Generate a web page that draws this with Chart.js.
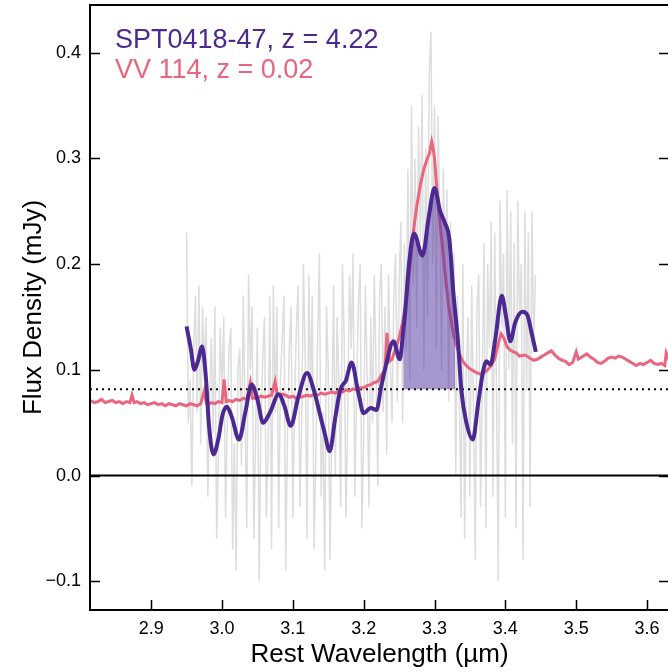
<!DOCTYPE html>
<html><head><meta charset="utf-8">
<script src="https://cdn.jsdelivr.net/npm/chart.js@4.4.1/dist/chart.umd.min.js"></script>
<style>html,body{margin:0;padding:0;background:#fff;overflow:hidden;width:668px;height:672px}
#wrap{width:680px;height:672px;position:relative}</style></head>
<body><div id="wrap"><canvas id="c"></canvas></div>
<script>
// ---- data ----
const xTicks = [2.9, 3.0, 3.1, 3.2, 3.3, 3.4, 3.5, 3.6];
const yTicks = [-0.1, 0.0, 0.1, 0.2, 0.3, 0.4];
const xRange = [2.8137, 3.631];
const yRange = [-0.1272, 0.4451];
const continuumLevel = 0.0816;
const fillRange = [3.256, 3.329];
const seriesLabels = ["SPT0418-47, z = 4.22", "VV 114, z = 0.02"];
const xTitle = "Rest Wavelength (\u00b5m)";
const yTitle = "Flux Density (mJy)";

// observed (unsmoothed) SPT0418-47 spectrum, evenly sampled
const greyStart = 2.95, greyStep = 0.0025;
const greyFlux = [
 0.23, 0.05, 0.09, -0.01, 0.12, 0.17, 0.06, 0.18, 0.03, 0.16,
 0.10, 0.15, -0.02, 0.07, 0.13, 0.04, 0.16, -0.06, 0.02, 0.14,
 0.08, 0.15, -0.04, 0.05, 0.12, 0.14, -0.07, 0.03, -0.09, 0.10,
 0.12, 0.01, 0.17, 0.06, -0.05, 0.19, 0.10, 0.16, -0.06, 0.04,
 0.14, -0.10, 0.05, 0.11, 0.15, -0.04, 0.02, 0.17, -0.07, 0.18,
 0.06, 0.16, -0.05, 0.09, 0.13, 0.17, -0.09, 0.04, 0.12, 0.16,
 -0.04, 0.07, 0.14, 0.18, -0.03, 0.05, 0.20, 0.11, -0.06, 0.19,
 0.08, 0.17, -0.07, 0.02, 0.13, 0.21, -0.02, 0.06, -0.09, 0.16,
 0.10, -0.08, 0.05, 0.18, 0.00, 0.15, 0.09, -0.03, 0.20, 0.13,
 -0.04, 0.06, 0.19, 0.12, 0.21, -0.02, 0.08, 0.16, 0.20, -0.05,
 0.04, 0.18, 0.09, -0.03, 0.15, 0.05, 0.19, 0.10, -0.01, 0.17,
 0.20, 0.06, 0.16, 0.02, 0.19, 0.11, 0.05, 0.17, 0.21, 0.07,
 0.18, 0.24, 0.05, 0.22, 0.12, 0.29, 0.09, 0.35, 0.18, 0.30,
 0.14, 0.33, 0.22, 0.36, 0.10, 0.31, 0.15, 0.38, 0.42, 0.20,
 0.35, 0.12, 0.34, 0.24, 0.10, 0.29, 0.18, 0.27, 0.07, 0.24,
 0.13, 0.21, 0.00, 0.17, 0.08, -0.04, 0.20, -0.06, 0.10, 0.15,
 -0.02, 0.18, 0.06, -0.08, 0.16, 0.19, -0.03, 0.09, 0.22, -0.05,
 0.20, 0.12, 0.24, -0.02, 0.23, 0.08, -0.10, 0.26, 0.14, 0.21,
 -0.04, 0.27, 0.10, 0.25, 0.03, 0.22, -0.05, 0.26, 0.15, 0.20,
 -0.08, 0.25, 0.08, 0.23, -0.03, 0.25, 0.12, 0.19
];

// VV 114 template
const vvWl = [2.814,2.82,2.825,2.83,2.835,2.84,2.845,2.85,2.855,2.86,2.865,2.87,2.873,2.876,2.88,2.885,2.89,2.895,2.90,2.905,2.91,2.915,2.92,2.925,2.93,2.935,2.94,2.945,2.95,2.955,2.96,2.965,2.97,2.975,2.978,2.98,2.985,2.99,2.995,3.0,3.003,3.006,3.01,3.015,3.02,3.025,3.03,3.035,3.04,3.043,3.05,3.055,3.06,3.065,3.07,3.075,3.078,3.085,3.09,3.095,3.10,3.105,3.11,3.115,3.12,3.125,3.13,3.135,3.14,3.145,3.15,3.155,3.16,3.165,3.17,3.175,3.18,3.185,3.19,3.195,3.20,3.205,3.21,3.215,3.22,3.225,3.23,3.233,3.236,3.24,3.245,3.25,3.255,3.26,3.265,3.27,3.275,3.28,3.285,3.29,3.293,3.296,3.298,3.30,3.303,3.306,3.31,3.315,3.32,3.325,3.33,3.335,3.34,3.345,3.35,3.355,3.36,3.365,3.37,3.375,3.38,3.385,3.39,3.394,3.398,3.402,3.408,3.415,3.42,3.428,3.435,3.44,3.445,3.45,3.455,3.46,3.465,3.47,3.475,3.48,3.485,3.49,3.495,3.50,3.503,3.51,3.515,3.52,3.525,3.53,3.535,3.54,3.545,3.55,3.555,3.56,3.565,3.57,3.575,3.58,3.585,3.59,3.595,3.60,3.605,3.61,3.615,3.62,3.625,3.627,3.632];
const vvFlux = [.071,.069,.070,.072,.069,.070,.071,.069,.070,.068,.070,.069,.076,.069,.070,.068,.069,.067,.068,.069,.067,.068,.066,.068,.067,.066,.068,.067,.066,.068,.067,.066,.068,.080,.068,.067,.069,.068,.070,.069,.091,.070,.071,.070,.072,.071,.073,.072,.088,.073,.073,.075,.074,.075,.076,.089,.076,.077,.076,.074,.075,.073,.074,.075,.076,.075,.077,.076,.078,.077,.078,.079,.078,.080,.079,.081,.080,.082,.081,.083,.083,.085,.086,.088,.089,.095,.100,.135,.108,.110,.120,.130,.145,.165,.195,.230,.255,.275,.290,.300,.305,.316,.310,.300,.275,.250,.225,.190,.160,.140,.125,.115,.108,.104,.101,.099,.097,.096,.097,.100,.104,.110,.125,.134,.130,.122,.118,.116,.113,.114,.111,.109,.110,.112,.114,.116,.118,.114,.111,.109,.108,.105,.107,.117,.110,.113,.115,.112,.110,.107,.106,.108,.111,.112,.111,.113,.112,.110,.108,.106,.104,.106,.105,.107,.109,.106,.105,.106,.104,.116,.108];

// smoothed SPT0418-47 spectrum
const sptWl = [2.950,2.956,2.961,2.966,2.972,2.977,2.982,2.988,2.995,3.001,3.007,3.014,3.024,3.033,3.042,3.050,3.058,3.068,3.080,3.088,3.097,3.108,3.120,3.130,3.139,3.145,3.152,3.160,3.167,3.175,3.183,3.192,3.200,3.210,3.218,3.225,3.231,3.242,3.251,3.256,3.258,3.264,3.271,3.283,3.292,3.300,3.308,3.314,3.321,3.327,3.329,3.333,3.338,3.345,3.354,3.362,3.369,3.373,3.379,3.386,3.395,3.401,3.407,3.414,3.424,3.431,3.437,3.443];
const sptFlux = [0.141,0.120,0.100,0.108,0.122,0.095,0.045,0.020,0.035,0.058,0.065,0.055,0.034,0.060,0.086,0.072,0.050,0.060,0.077,0.066,0.047,0.075,0.097,0.080,0.056,0.040,0.023,0.055,0.081,0.090,0.107,0.080,0.059,0.064,0.062,0.085,0.103,0.127,0.110,0.138,0.150,0.200,0.229,0.208,0.245,0.272,0.250,0.240,0.223,0.170,0.156,0.128,0.080,0.050,0.034,0.070,0.100,0.108,0.105,0.130,0.170,0.150,0.127,0.145,0.155,0.152,0.135,0.117];

// ---- build datasets ----
const PURPLE = 'rgb(75,41,145)';
const PINK = 'rgb(233,102,126)';
const GREY = 'rgb(221,221,221)';
const greyData = greyFlux.map((v,i)=>({x: greyStart + i*greyStep, y: v}));
const vvData = vvWl.map((w,i)=>({x:w, y:vvFlux[i]}));
const sptData = sptWl.map((w,i)=>({x:w, y:sptFlux[i]}));
const fillData = sptData.filter(p => p.x >= fillRange[0] && p.x <= fillRange[1]);
const FONT = "'Liberation Sans', Arial, Helvetica, sans-serif";

const decor = {
  id: 'decor',
  afterDraw(chart) {
    const {ctx, chartArea: a, scales} = chart;
    ctx.save();
    ctx.strokeStyle = '#000';
    ctx.lineWidth = 1.5;
    ctx.beginPath();
    xTicks.forEach(v => { const p = Math.round(scales.x.getPixelForValue(v)) + 0.5; ctx.moveTo(p, a.bottom); ctx.lineTo(p, a.bottom - 10); });
    yTicks.forEach(v => { const p = Math.round(scales.y.getPixelForValue(v)) + 0.5; ctx.moveTo(a.left, p); ctx.lineTo(a.left + 10, p); ctx.moveTo(a.right, p); ctx.lineTo(a.right - 10, p); });
    ctx.stroke();
    ctx.lineWidth = 2;
    ctx.strokeRect(a.left, a.top, a.right - a.left, a.bottom - a.top);
    // legend text
    ctx.textBaseline = 'alphabetic';
    ctx.textAlign = 'left';
    ctx.font = '27px ' + FONT;
    ctx.fillStyle = PURPLE;
    ctx.fillText(seriesLabels[0], a.left + 25, 48);
    ctx.fillStyle = PINK;
    ctx.fillText(seriesLabels[1], a.left + 25, 78);
    // axis titles
    ctx.fillStyle = '#000';
    ctx.font = '26px ' + FONT;
    ctx.textAlign = 'center';
    ctx.fillText(xTitle, (a.left + a.right) / 2, 662);
    ctx.save();
    ctx.translate(41, (a.top + a.bottom) / 2);
    ctx.rotate(-Math.PI / 2);
    ctx.fillText(yTitle, 0, 0);
    ctx.restore();
    ctx.restore();
  }
};

new Chart(document.getElementById('c'), {
  type: 'line',
  data: {
    datasets: [
      {data: sptData, borderColor: PURPLE, borderWidth: 4, pointRadius: 0, cubicInterpolationMode: 'monotone', fill: false, order: 0},
      {data: fillData, borderWidth: 0, borderColor: 'rgba(0,0,0,0)', backgroundColor: 'rgba(80,48,160,0.5)', pointRadius: 0, cubicInterpolationMode: 'monotone', fill: {value: continuumLevel}, order: 1},
      {data: vvData, borderColor: PINK, borderWidth: 3, pointRadius: 0, tension: 0, fill: false, order: 2},
      {data: [{x: xRange[0], y: continuumLevel}, {x: xRange[1], y: continuumLevel}], borderColor: '#000', borderWidth: 2, borderDash: [2, 4], pointRadius: 0, fill: false, order: 3},
      {data: [{x: xRange[0], y: 0}, {x: xRange[1], y: 0}], borderColor: '#000', borderWidth: 2, pointRadius: 0, fill: false, order: 3},
      {data: greyData, borderColor: GREY, borderWidth: 1.5, pointRadius: 0, tension: 0, fill: false, order: 5}
    ]
  },
  options: {
    responsive: true, maintainAspectRatio: false, animation: false,
    layout: {padding: {top: 5, right: 11, left: 0, bottom: 0}},
    plugins: {legend: {display: false}, tooltip: {enabled: false}},
    scales: {
      x: {
        type: 'linear', min: xRange[0], max: xRange[1],
        afterBuildTicks: s => { s.ticks = xTicks.map(v => ({value: v})); },
        afterFit: s => { s.height = 62; s.paddingLeft = 0; s.paddingRight = 0; },
        grid: {display: false, drawTicks: false}, border: {display: false},
        ticks: {color: '#000', padding: 8, maxRotation: 0, font: {size: 18, family: FONT}, callback: v => v.toFixed(1)}
      },
      y: {
        type: 'linear', min: yRange[0], max: yRange[1],
        afterBuildTicks: s => { s.ticks = yTicks.map(v => ({value: v})); },
        afterFit: s => { s.width = 90; s.paddingTop = 0; s.paddingBottom = 0; },
        grid: {display: false, drawTicks: false}, border: {display: false},
        ticks: {color: '#000', padding: 9, font: {size: 18, family: FONT}, callback: v => (v < 0 ? '\u2212' + Math.abs(v).toFixed(1) : v.toFixed(1))}
      }
    }
  },
  plugins: [decor]
});
</script>
</body></html>
